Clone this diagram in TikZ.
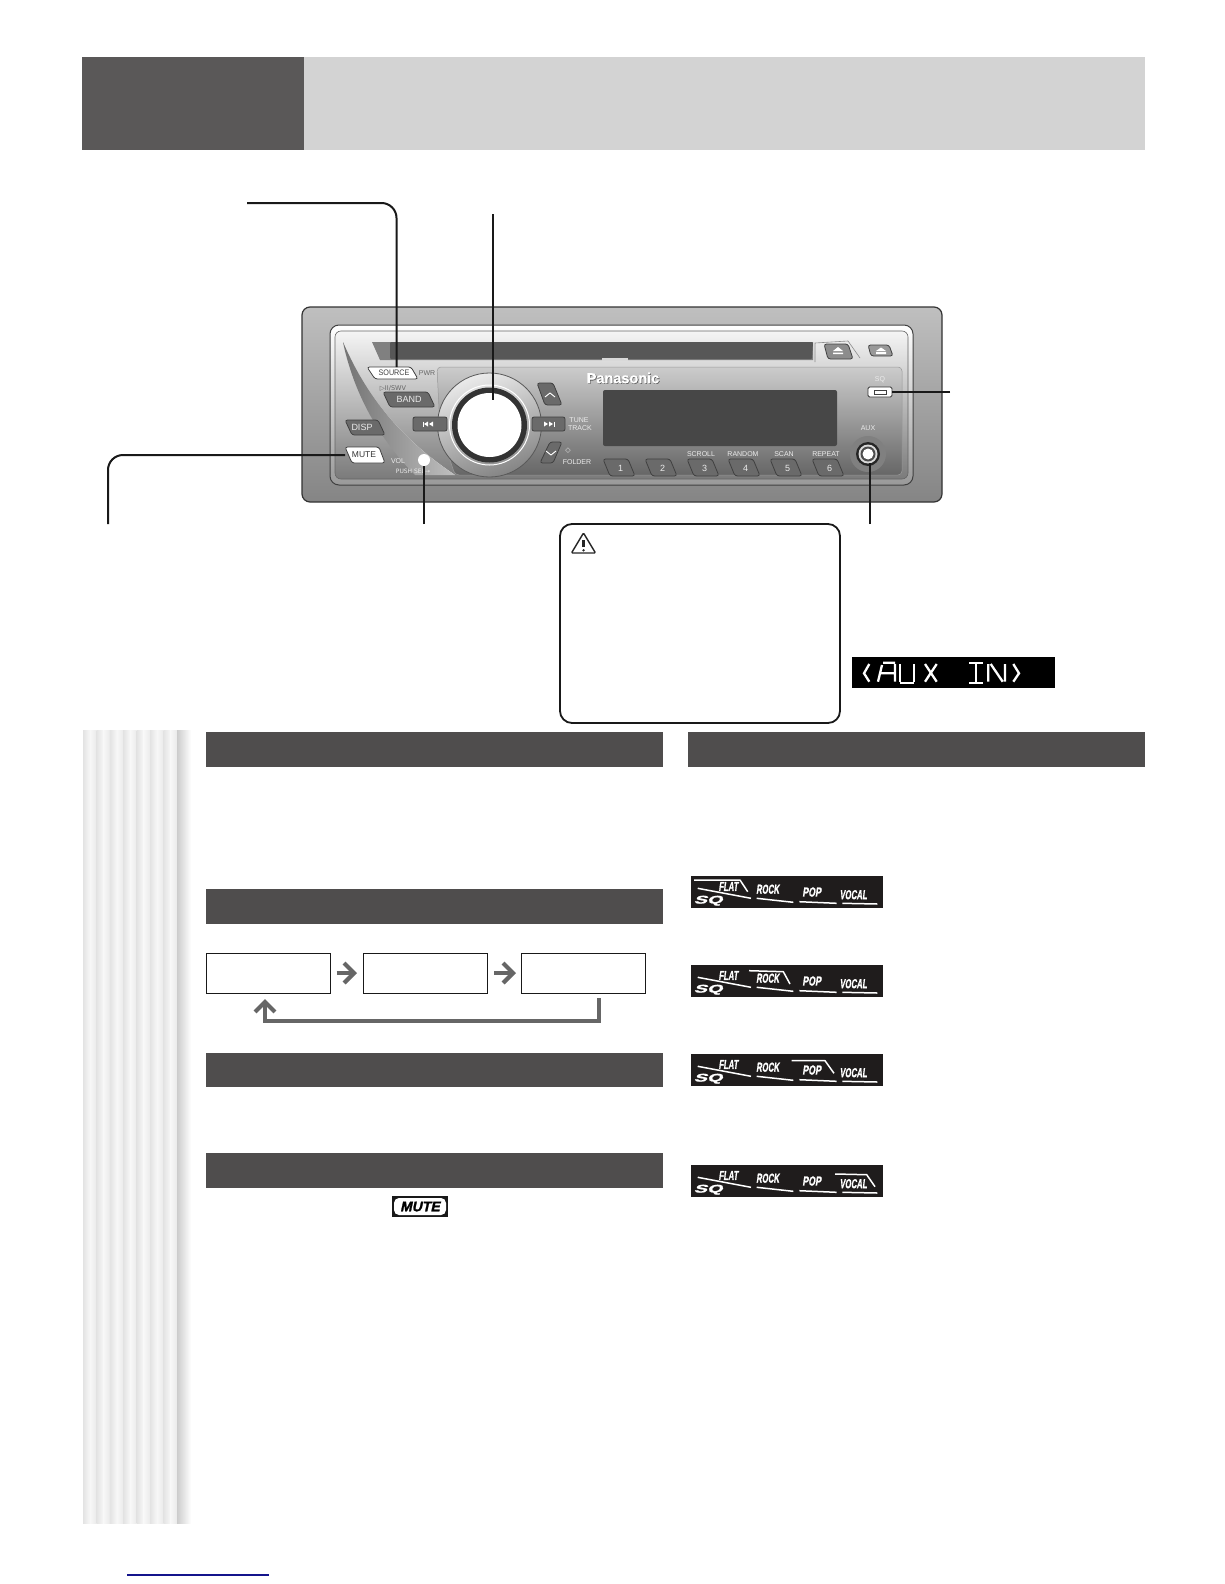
\documentclass[tikz,border=0pt]{standalone}
\usepackage{fontspec}
\usepackage{graphicx}
\setmainfont{Liberation Sans}
\newfontfamily\symfont{DejaVu Sans}
\newfontfamily\heavyfont[FakeBold=1.6,FakeSlant=0.22]{Liberation Sans Bold}
\newfontfamily\brandfont[FakeBold=1.2]{Liberation Sans Bold}
\usetikzlibrary{arrows.meta}
\definecolor{hdark}{HTML}{5A5858}
\definecolor{hlight}{HTML}{D3D3D3}
\definecolor{bar}{HTML}{4F4D4D}
\definecolor{arrowgray}{HTML}{666666}
\definecolor{navyline}{HTML}{14148C}
\definecolor{lcd}{HTML}{1F1C1C}
\definecolor{btndark}{HTML}{6A6A6A}
\tikzset{
  callout/.style={draw=black!90,line width=2pt,rounded corners=15pt},
  sectionbar/.style={fill=bar,draw=none},
  flowbox/.style={draw=black!90,line width=1pt,fill=white,minimum width=124pt,minimum height=40pt,inner sep=0pt},
  flowarrow/.style={draw=arrowgray,line width=4.2pt,-{Straight Barb[length=10pt,width=20pt,line width=4.2pt]}},
  lcdseg/.style={draw=white,line width=2.3pt},
  sqline/.style={draw=white,line width=1.5pt},
  sqtext/.style={text=white,inner sep=0pt,font=\heavyfont\fontsize{13}{13}\selectfont},
  rlabel/.style={text=white!92!black,inner sep=0pt,font=\fontsize{7}{7}\selectfont},
  dlabel/.style={text=black!60,inner sep=0pt,font=\fontsize{7}{7}\selectfont},
  btnedge/.style={draw=black!75,line width=.8pt,rounded corners=2.5pt},
}
\newcommand{\slbtn}[5]{\path[btnedge,fill=#5] (#1,#2)--(#3-7,#2)--(#3,#4)--(#1+7,#4)--cycle;}
\newcommand{\sqdisplay}[3]{%
  \begin{scope}[shift={(691,#1)}]
    \fill[lcd] (0,0) rectangle (192,#2);
    \node[sqtext] at (37.3,10.5) {\scalebox{.6}[1]{FLAT}};
    \node[sqtext] at (76.7,13.2) {\scalebox{.6}[1]{ROCK}};
    \node[sqtext] at (120.7,16) {\scalebox{.68}[1]{POP}};
    \node[sqtext] at (162.3,18.7) {\scalebox{.6}[1]{VOCAL}};
    \node[sqtext,font=\heavyfont\fontsize{11}{11}\selectfont] at (17,24.7) {\scalebox{1.8}[1]{SQ}};
    \draw[sqline] (6.7,12.3)--(60,22.3);
    \draw[sqline] (65.7,22.3)--(102.3,26.3);
    \draw[sqline] (108.3,25.7)--(145.7,27.3);
    \draw[sqline] (151.3,27.3)--(186.3,28);
    \draw[sqline,line join=round] #3;
  \end{scope}}
\begin{document}
\begin{tikzpicture}[x=1pt,y=-1pt]
\useasboundingbox (0,0) rectangle (1224,1584);
\fill[white] (0,0) rectangle (1224,1584);

% header
\fill[hdark] (82,57) rectangle (304,150);
\fill[hlight] (304,57) rectangle (1145,150);

% left strip
\foreach \i in {0,...,6}{
  \shade[left color=black!11,right color=black!3] (83+13.4*\i,730) rectangle (83+13.4*\i+7,1523);
  \shade[left color=black!3,right color=black!8] (83+13.4*\i+7,730) rectangle (83+13.4*\i+13.4,1523);
}
\shade[left color=black!20,right color=white] (177,730) rectangle (191,1523);

% section bars
\fill[sectionbar] (206,732) rectangle (663,767);
\fill[sectionbar] (688,732) rectangle (1145,767);
\fill[sectionbar] (206,889) rectangle (663,924);
\fill[sectionbar] (206,1053) rectangle (663,1087);
\fill[sectionbar] (206,1153) rectangle (663,1188);

% radio body
\shade[top color=black!25,bottom color=black!48,draw=black!80,line width=1.2pt,rounded corners=8pt] (302,307) rectangle (942,502);
\shade[top color=white,bottom color=black!40,draw=black!75,line width=1pt,rounded corners=9pt] (330,325) rectangle (913,485);
\shade[top color=black!4,middle color=black!28,bottom color=black!52,draw=black!60,line width=.6pt,rounded corners=6pt] (335,331) rectangle (908,479);

% face panel behind the controls
\path[top color=black!20,bottom color=black!60,draw=black!40,line width=.5pt,rounded corners=4pt]
  (437,367)--(902,367)--(902,475)--(455,475)--(440,430)--cycle;

% swoosh
\path[top color=black!15,bottom color=white,draw=none]
  (343,342) .. controls (352,400) and (395,445) .. (455,475) .. controls (410,445) and (370,405) .. (343,342) -- cycle;
\path[left color=black!55,right color=black!25,draw=none]
  (343,342) .. controls (370,405) and (410,445) .. (455,475) -- (415,475) .. controls (385,445) and (355,400) .. (343,342) -- cycle;

% disc slot
\fill[black!50] (372,342)--(813,342)--(813,360)--(380,360)--cycle;
\fill[black!66,rounded corners=1pt] (390,342)--(813,342)--(812,359)--(390,359)--cycle;
\fill[white!85!black] (602,358) rectangle (628,361);
\draw[black!45,line width=.6pt] (815,362)--(815,343)--(848,341)--(860,358);
% display
\fill[black!72,rounded corners=2pt] (603,390) rectangle (837,446);

% knob
\shade[left color=black!8,right color=black!48,shading angle=20,draw=black!65,line width=.8pt] (489.5,425) circle (52);
\draw[white,line width=1pt] (489.5,425) circle (40);
\fill[black!80] (489.5,425) circle (37.5);
\fill[white] (489.5,425) circle (32);
\node[inner sep=0pt] (knob) at (489.5,425) {};

% top-left buttons
\path[btnedge,fill=white] (367,367)--(411,367)--(418,379)--(375,379)--cycle;
\node[text=black!75,inner sep=0pt,font=\fontsize{8}{8}\selectfont] (srcbtn) at (394,373) {\scalebox{.9}[1]{SOURCE}};
\slbtn{383}{392}{435}{407}{btndark}
\node[rlabel,font=\fontsize{9}{9}\selectfont] at (409,399.5) {BAND};
\slbtn{345}{420}{385}{435}{btndark}
\node[rlabel,font=\fontsize{9}{9}\selectfont] at (362,427.5) {DISP};
\path[btnedge,fill=white] (345,447)--(379,447)--(385,463)--(352,463)--cycle;
\node[text=black!80,inner sep=0pt,font=\fontsize{8.5}{8.5}\selectfont] (mutebtn) at (364,455) {MUTE};
\node[dlabel] at (427,373) {PWR};
\node[dlabel,font=\symfont\fontsize{6.5}{7}\selectfont] at (393,388) {▷II/SWV};
\node[rlabel] at (398,461) {VOL};
\node[rlabel,font=\symfont\fontsize{6}{7}\selectfont] at (413,471) {PUSH SEL→};
\fill[white] (424,460) circle (6);
\node[inner sep=0pt] (voldot) at (424,460) {};

% prev/next/up/down
\draw[fill=btndark,draw=black!75,line width=.8pt,rounded corners=2pt] (413,417) rectangle (447,431);
\draw[fill=btndark,draw=black!75,line width=.8pt,rounded corners=2pt] (532,417) rectangle (565,431);
\fill[white] (424,424)--(428,421.5)--(428,426.5)--cycle (429,424)--(433,421.5)--(433,426.5)--cycle;
\draw[white,line width=.8pt] (423,421.5)--(423,426.5) (554,421.5)--(554,426.5);
\fill[white] (553,424)--(549,421.5)--(549,426.5)--cycle (548,424)--(544,421.5)--(544,426.5)--cycle;
\path[btnedge,fill=btndark] (537,383)--(553,383)--(562,405)--(545,405)--cycle;
\draw[white,line width=.9pt] (545,397)--(550,393)--(555,397);
\path[btnedge,fill=btndark] (540,463)--(553,463)--(562,442)--(550,442)--cycle;
\draw[white,line width=.9pt] (546,451)--(551,455)--(556,451);
\node[rlabel] at (579,420) {TUNE};
\node[rlabel] at (580,428) {TRACK};
\node[rlabel,font=\symfont\fontsize{7}{7}\selectfont] at (568,451) {◇};
\node[rlabel] at (577,462) {FOLDER};

% Panasonic
\node[inner sep=0pt,text=black!70,font=\brandfont\fontsize{14.5}{15}\selectfont] at (623.6,378.6) {Panasonic};
\node[inner sep=0pt,text=white,font=\brandfont\fontsize{14.5}{15}\selectfont] at (623,378) {Panasonic};

% presets
\foreach \x/\t/\n in {603/1/p1,645/2/p2,687/3/p3,728/4/p4,770/5/p5,812/6/p6}{
  \slbtn{\x}{459}{\x+32}{476}{btndark}
  \node[rlabel,font=\fontsize{9}{9}\selectfont] (\n) at (\x+17.5,468) {\t};
}
\node[rlabel] at (701,454) {SCROLL};
\node[rlabel] at (743,454) {RANDOM};
\node[rlabel] at (784,454) {SCAN};
\node[rlabel] at (826,454) {REPEAT};

% eject, open
\path[btnedge,fill=black!45] (824,344)--(848,344)--(853,359)--(828,359)--cycle;
\fill[white] (833,351)--(838,347)--(843,351)--cycle (833,352.5) rectangle (843,354);
\path[btnedge,fill=black!40] (868,345)--(889,345)--(893,356)--(871,356)--cycle;
\fill[white] (876,351)--(881,347.5)--(886,351)--cycle (876,352) rectangle (886,354);

% SQ button
\node[rlabel] at (880,380) {SQ};
\draw[fill=white,draw=black!80,line width=.8pt,rounded corners=1.5pt] (868,387) rectangle (892,397);
\draw[black!75,line width=.7pt] (874,390) rectangle (886,394);
\node[inner sep=0pt] (sqbtn) at (880,392) {};

% AUX jack
\node[rlabel] at (868,428) {AUX};
\fill[black!50] (868,454) circle (18);
\fill[black!85] (868,454) circle (12);
\fill[white!85!black] (868,454) circle (9.5);
\fill[black!70] (868,454) circle (7.5);
\fill[white] (868,454) circle (5.5);
\node[inner sep=0pt] (auxjack) at (868,454) {};

% callouts
\coordinate (srcfree) at (247,203);
\coordinate (srccorner) at (396.5,203);
\coordinate (srcend) at (396.5,367);
\draw[callout] (srcfree) -- (srccorner) -- (srcend);
\coordinate (knobfree) at (493,214);
\coordinate (knobend) at (493,400);
\draw[callout] (knobfree) -- (knobend);
\coordinate (mutefree) at (108,524);
\coordinate (mutecorner) at (108,455);
\coordinate (muteend) at (345,455);
\draw[callout] (mutefree) -- (mutecorner) -- (muteend);
\coordinate (volfree) at (424,524);
\coordinate (volend) at (424,466);
\draw[callout] (volfree) -- (volend);
\coordinate (auxfree) at (870,524);
\coordinate (auxend) at (870,463);
\draw[callout] (auxfree) -- (auxend);
\coordinate (sqfree) at (950,392);
\coordinate (sqend) at (892,392);
\draw[callout] (sqfree) -- (sqend);

% caution box
\draw[black!90,line width=1.8pt,rounded corners=12pt,fill=white] (560,524) rectangle (840,723);
\draw[black!85,line width=1.4pt,line join=round,rounded corners=1pt] (583.5,533)--(595.5,553)--(571.5,553)--cycle;
\draw[black!85,line width=2.4pt] (583.5,540)--(583.5,547);
\fill[black!85] (583.5,550.3) circle (1.3);

% AUX IN
\fill[black] (852,657) rectangle (1055,688);
\begin{scope}[shift={(840,640)}]
  \draw[lcdseg] (29.3,24)--(24,33.3)--(29.3,41.7);
  \draw[lcdseg] (38,41.7)--(42,25) (43,22.7)--(55,22.7) (55,24)--(55,41.7) (41,33.3)--(54,33.3);
  \draw[lcdseg] (60,24)--(60,41.7) (60,42.7)--(74,42.7) (74,24)--(74,41.7);
  \draw[lcdseg] (85,24)--(96.7,41.7) (96.7,24)--(85,41.7);
  \draw[lcdseg] (129.3,22.7)--(143.3,22.7) (136,24)--(136,41.7) (129.3,42.7)--(143.3,42.7);
  \draw[lcdseg] (148.3,24)--(148.3,41.7) (150.7,24)--(162.7,41.7) (165,24)--(165,41.7);
  \draw[lcdseg] (173.3,24)--(179,33.3)--(173.3,41.7);
\end{scope}

% flow
\node[flowbox] (fa) at (268,973) {};
\node[flowbox] (fb) at (425.5,973) {};
\node[flowbox] (fc) at (583.5,973) {};
\draw[flowarrow,shorten <=6pt,shorten >=6pt] (fa) -- (fb);
\draw[flowarrow,shorten <=6pt,shorten >=5pt] (fb) -- (fc);
\coordinate (retstart) at (599,998);
\coordinate (retc1) at (599,1021);
\coordinate (retc2) at (265,1021);
\coordinate (retend) at (265,999);
\draw[flowarrow,line join=miter] (retstart) -- (retc1) -- (retc2) -- (retend);

% SQ displays
\sqdisplay{876}{32}{(3,4)--(49,4)--(56.7,15.7)}
\sqdisplay{965}{32}{(58,5.7)--(92.3,6.7)--(99,19)}
\sqdisplay{1054}{32}{(100.7,6.7)--(134,6.7)--(143,19.3)}
\sqdisplay{1165}{32}{(144,9)--(175.7,9.7)--(184,21.7)}

% MUTE icon
\fill[black!90] (392,1196) rectangle (448,1217);
\fill[white,rounded corners=5pt] (394,1198) rectangle (446,1215);
\node[inner sep=0pt,text=black,font=\heavyfont\fontsize{14}{14}\selectfont] at (420,1206.5) {MUTE};

% footer rule
\draw[navyline,line width=1.3pt] (127,1575)--(269,1575);
\end{tikzpicture}
\end{document}
